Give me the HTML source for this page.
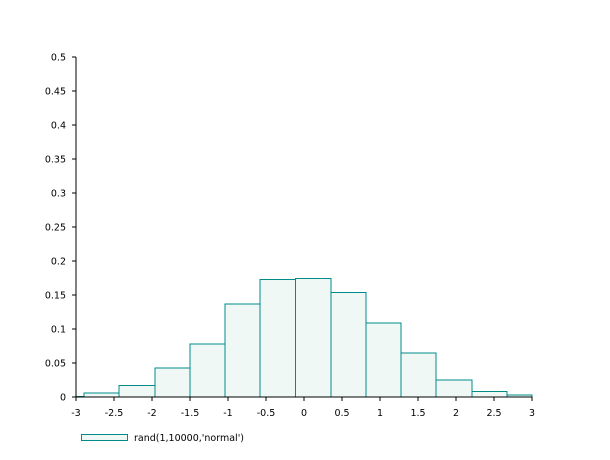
<!DOCTYPE html>
<html><head><style>body{margin:0;background:#fff}svg{display:block}</style></head>
<body>
<svg width="610" height="460" xmlns="http://www.w3.org/2000/svg" font-family="DejaVu Sans, sans-serif" font-size="9.5">
<rect width="610" height="460" fill="#fff"/>
<g fill="#f0f8f6" stroke="#008b8b" stroke-width="1" shape-rendering="crispEdges">
<rect x="76" y="396.5" width="8" height="0.5"/>
<rect x="84" y="393" width="35" height="4"/>
<rect x="119" y="385.5" width="36" height="11.5"/>
<rect x="155" y="368" width="35" height="29"/>
<rect x="190" y="344" width="35" height="53"/>
<rect x="225" y="304" width="35" height="93"/>
<rect x="260" y="279.5" width="35.5" height="117.5"/>
<rect x="295.5" y="278.5" width="35.5" height="118.5"/>
<rect x="331" y="292.5" width="35" height="104.5"/>
<rect x="366" y="323" width="35" height="74"/>
<rect x="401" y="353" width="35" height="44"/>
<rect x="436" y="380" width="36" height="17"/>
<rect x="472" y="391.5" width="35" height="5.5"/>
<rect x="507" y="395" width="25" height="2"/>
</g>
<g stroke="#000" stroke-width="1" shape-rendering="crispEdges">
<line x1="76" y1="397" x2="532" y2="397"/>
<line x1="76" y1="57" x2="76" y2="397"/>
<line x1="72" y1="397" x2="76" y2="397"/><line x1="72" y1="363" x2="76" y2="363"/>
<line x1="72" y1="329" x2="76" y2="329"/><line x1="72" y1="295" x2="76" y2="295"/>
<line x1="72" y1="261" x2="76" y2="261"/><line x1="72" y1="227" x2="76" y2="227"/>
<line x1="72" y1="193" x2="76" y2="193"/><line x1="72" y1="159" x2="76" y2="159"/>
<line x1="72" y1="125" x2="76" y2="125"/><line x1="72" y1="91" x2="76" y2="91"/>
<line x1="72" y1="57" x2="76" y2="57"/>
<line x1="76" y1="397" x2="76" y2="401"/><line x1="114" y1="397" x2="114" y2="401"/>
<line x1="152" y1="397" x2="152" y2="401"/><line x1="190" y1="397" x2="190" y2="401"/>
<line x1="228" y1="397" x2="228" y2="401"/><line x1="266" y1="397" x2="266" y2="401"/>
<line x1="304" y1="397" x2="304" y2="401"/><line x1="342" y1="397" x2="342" y2="401"/>
<line x1="380" y1="397" x2="380" y2="401"/><line x1="418" y1="397" x2="418" y2="401"/>
<line x1="456" y1="397" x2="456" y2="401"/><line x1="494" y1="397" x2="494" y2="401"/>
<line x1="532" y1="397" x2="532" y2="401"/>
</g>
<g text-anchor="end" fill="#000">
<text x="66" y="400.5">0</text><text x="66" y="366.5">0.05</text><text x="66" y="332.5">0.1</text>
<text x="66" y="298.5">0.15</text><text x="66" y="264.5">0.2</text><text x="66" y="230.5">0.25</text>
<text x="66" y="196.5">0.3</text><text x="66" y="162.5">0.35</text><text x="66" y="128.5">0.4</text>
<text x="66" y="94.5">0.45</text><text x="66" y="60.5">0.5</text>
</g>
<g text-anchor="middle" fill="#000">
<text x="76" y="416">-3</text><text x="114" y="416">-2.5</text><text x="152" y="416">-2</text>
<text x="190" y="416">-1.5</text><text x="228" y="416">-1</text><text x="266" y="416">-0.5</text>
<text x="304" y="416">0</text><text x="342" y="416">0.5</text><text x="380" y="416">1</text>
<text x="418" y="416">1.5</text><text x="456" y="416">2</text><text x="494" y="416">2.5</text>
<text x="532" y="416">3</text>
</g>
<rect x="81.5" y="434.5" width="46" height="6" fill="#f0f8f6" stroke="#008b8b"/>
<text x="134" y="441" fill="#000">rand(1,10000,'normal')</text>
</svg>
</body></html>
